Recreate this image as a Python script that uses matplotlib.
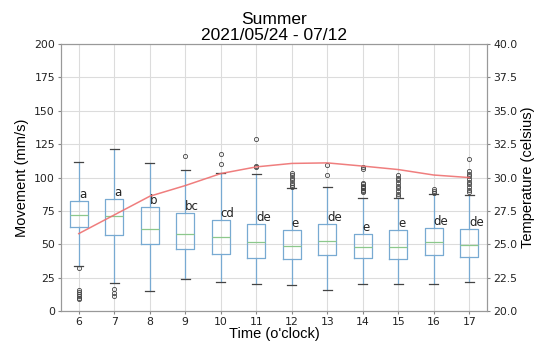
import matplotlib
matplotlib.use("Agg")
import matplotlib.pyplot as plt

hours = [6, 7, 8, 9, 10, 11, 12, 13, 14, 15, 16, 17]
q1 = [62.7, 56.9, 50.2, 46.7, 42.5, 39.7, 39.2, 41.9, 39.5, 38.9, 42.2, 40.2]
med = [72.2, 71.4, 61.4, 57.4, 55.4, 51.7, 48.9, 52.2, 48.2, 47.7, 51.4, 49.7]
q3 = [82.6, 84.1, 78.1, 73.6, 68.4, 65.4, 60.9, 65.4, 57.7, 60.4, 62.4, 61.4]
whis_lo = [33.5, 21.2, 15.2, 24.2, 21.7, 20.2, 19.2, 16.0, 20.0, 20.2, 20.2, 21.5]
whis_hi = [111.8, 121.1, 110.6, 105.8, 103.1, 102.8, 92.4, 93.1, 84.6, 84.6, 87.6, 86.7]
fliers = [
    [32, 16, 14, 12.5, 11, 10, 9],
    [16.3, 13.7, 11.2],
    [],
    [116],
    [117.8, 110.3],
    [128.6, 108.6, 107.6],
    [103.6, 102, 100, 98, 96, 94.5, 93],
    [109.4, 101.9],
    [108.1, 106.1, 96, 95, 94, 93, 92, 91, 90, 89],
    [101.9, 100, 98, 96, 94, 92, 90, 88, 86],
    [91.4, 90, 88.5],
    [113.9, 105.1, 103, 101, 99, 97, 95, 93, 91, 89],
]
letters = ["a", "a", "b", "bc", "cd", "de", "e", "de", "e", "e", "de", "de"]
temperature = [25.8, 27.2, 28.6, 29.4, 30.3, 30.8, 31.06, 31.1, 30.86, 30.6, 30.19, 30.0]

stats = []
for i in range(len(hours)):
    stats.append({"med": med[i], "q1": q1[i], "q3": q3[i],
                  "whislo": whis_lo[i], "whishi": whis_hi[i],
                  "fliers": fliers[i], "label": str(hours[i])})

arial = ["Liberation Sans", "DejaVu Sans"]
blue = "#78aad2"

fig = plt.figure(figsize=(5.37, 3.42), dpi=100)
ax = fig.add_axes([0.1136, 0.0906, 0.7934, 0.7804])
pos = list(range(1, len(hours) + 1))
ax.bxp(stats, positions=pos, widths=0.5,
       boxprops=dict(color=blue, linewidth=0.9),
       whiskerprops=dict(color=blue, linewidth=0.9),
       medianprops=dict(color="#8cc88c", linewidth=0.9),
       capprops=dict(color="#444444", linewidth=0.9),
       flierprops=dict(marker="o", markerfacecolor="none", markeredgecolor="#444444",
                       markersize=3, markeredgewidth=0.6))
for p, t, top in zip(pos, letters, q3):
    ax.text(p, top, t, ha="left", va="bottom", fontsize=8.5, color="#222222")
ax.set_ylim(0, 200)
ax.set_yticks(range(0, 201, 25))
ax.grid(True, color="#dcdcdc", linewidth=0.8)
ax.set_axisbelow(True)
ax.set_xlabel("Time (o'clock)", fontsize=10.5, family=arial, labelpad=0)
ax.set_ylabel("Movement (mm/s)", fontsize=10.5, family=arial, labelpad=4)
ax.set_title("Summer\n2021/05/24 - 07/12", fontsize=12.5, family=arial,
             linespacing=1.05, pad=3)
ax.tick_params(labelsize=7.8, length=2.5, pad=1.8, colors="#888888", labelcolor="#222222")

ax2 = ax.twinx()
ax2.plot(pos, temperature, color="#ee7070", alpha=0.9, linewidth=1.1)
ax2.set_ylim(20, 40)
ax2.set_yticks([20 + 2.5 * k for k in range(9)])
ax2.set_yticklabels(["%.1f" % (20 + 2.5 * k) for k in range(9)])
ax2.set_ylabel("Temperature (celsius)", fontsize=10.5, family=arial, labelpad=3)
ax2.tick_params(labelsize=7.8, length=2.5, pad=1.8, colors="#888888", labelcolor="#222222")
ax.set_xlim(0.5, len(hours) + 0.5)

for a in (ax, ax2):
    for s in a.spines.values():
        s.set_color("#999999")

fig.savefig("out.png", dpi=100)
